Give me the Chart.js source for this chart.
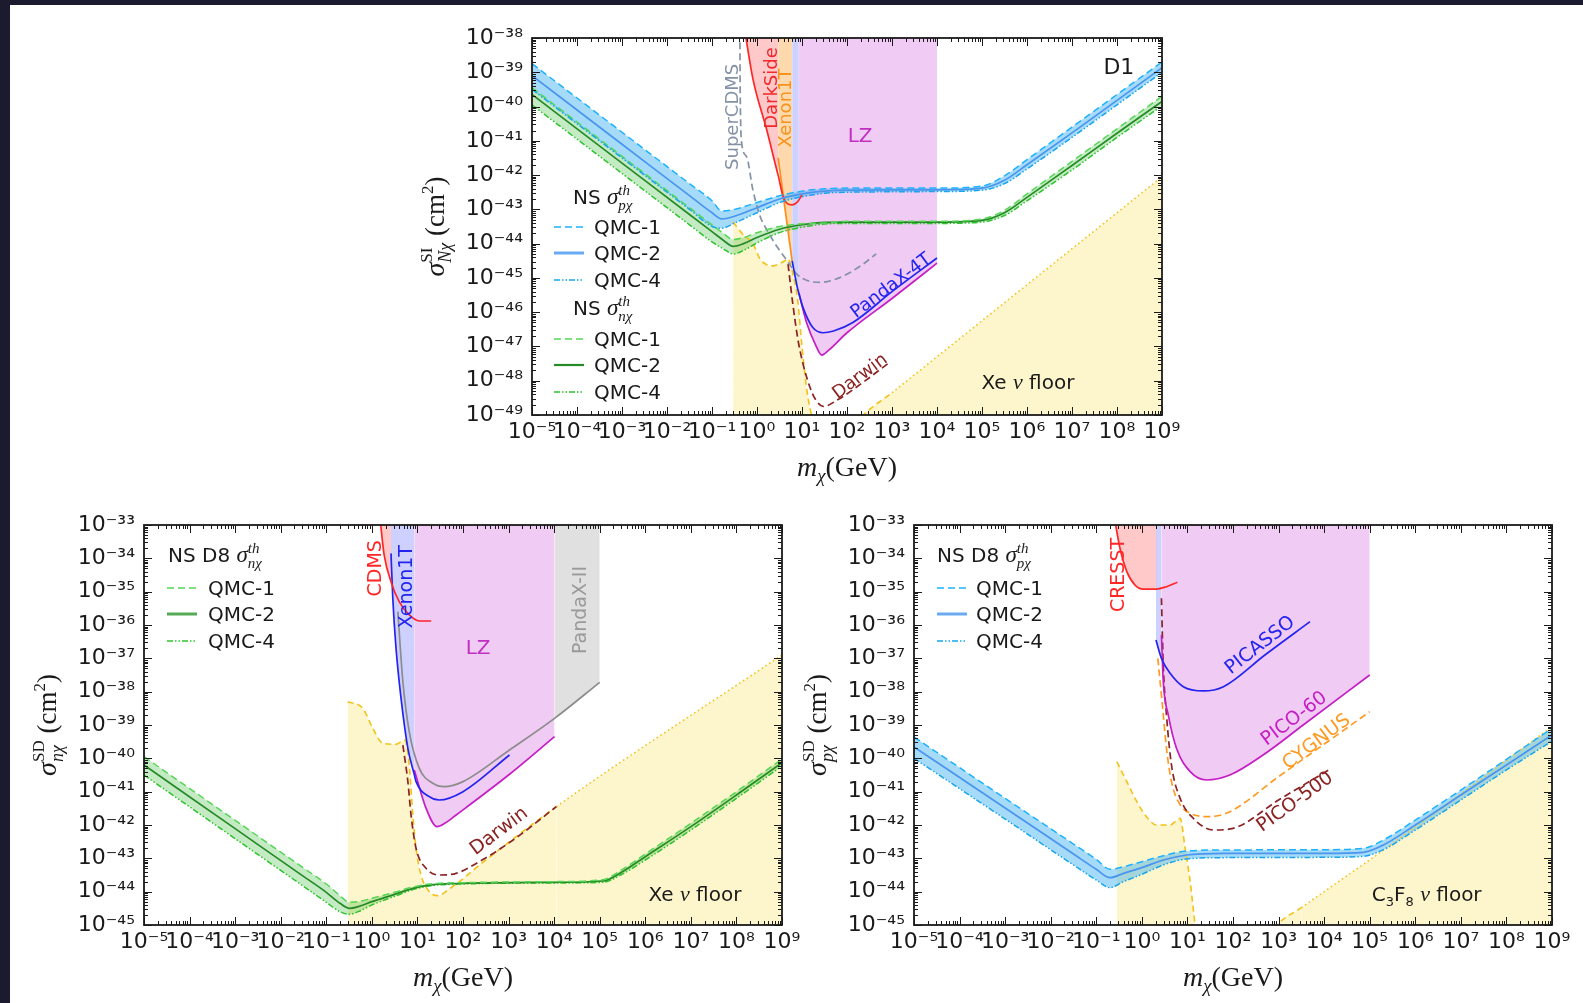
<!DOCTYPE html>
<html>
<head>
<meta charset="utf-8">
<script src="https://cdn.jsdelivr.net/npm/chart.js@4.4.1/dist/chart.umd.min.js"></script>
<style>
  body { margin: 0; width: 1583px; height: 1003px; background: #fff; position: relative; overflow: hidden; }
  .strip { position: absolute; background: #1b1a2e; }
  canvas { position: absolute; }
</style>
</head>
<body>
<div class="strip" style="left:0;top:0;width:1583px;height:5px"></div>
<div class="strip" style="left:0;top:0;width:10px;height:1003px"></div>
<canvas id="si" width="780" height="482" style="left:420px;top:8px"></canvas>
<canvas id="sdn" width="800" height="508" style="left:10px;top:495px"></canvas>
<canvas id="sdp" width="783" height="508" style="left:800px;top:495px"></canvas>
<script>
// tick decades (powers of ten)
const massDecades = [-5, -4, -3, -2, -1, 0, 1, 2, 3, 4, 5, 6, 7, 8, 9];
const siDecades = [-49, -48, -47, -46, -45, -44, -43, -42, -41, -40, -39, -38];
const sdDecades = [-45, -44, -43, -42, -41, -40, -39, -38, -37, -36, -35, -34, -33];

// ---------- D1 : spin independent (GeV, cm^2) ----------
const siPMass = [1e-5, 1e-3, 0.0316, 0.1, 0.166, 0.316, 1, 3.16, 10, 31.6, 100, 1e4, 1e5, 3.16e5, 1e6, 1e7, 1e8, 1e9];
const siPQmc1 = [1.78e-39, 1.78e-41, 5.62e-43, 1.78e-43, 8.91e-44, 1.0e-43, 1.58e-43, 2.51e-43, 3.39e-43, 3.98e-43, 4.17e-43, 4.17e-43, 4.79e-43, 9.55e-43, 2.82e-42, 2.51e-41, 2.24e-40, 2.0e-39];
const siPQmc2 = [7.94e-40, 7.94e-42, 2.51e-43, 7.94e-44, 5.25e-44, 6.31e-44, 1.12e-43, 2.0e-43, 2.82e-43, 3.39e-43, 3.63e-43, 3.72e-43, 4.17e-43, 7.08e-43, 2.0e-42, 1.70e-41, 1.51e-40, 1.35e-39];
const siPQmc4 = [3.16e-40, 3.16e-42, 1.0e-43, 3.16e-44, 2.82e-44, 3.98e-44, 7.94e-44, 1.58e-43, 2.34e-43, 2.95e-43, 3.16e-43, 3.31e-43, 3.63e-43, 5.62e-43, 1.51e-42, 1.26e-41, 1.12e-40, 1.0e-39];

const siNMass = [1e-5, 1e-3, 0.0316, 0.1, 0.178, 0.295, 0.501, 1, 3.16, 10, 31.6, 100, 1e4, 1e5, 3.16e5, 1e6, 1e7, 1e8, 1e9];
const siNQmc1 = [3.55e-40, 3.55e-42, 1.12e-43, 3.55e-44, 2.0e-44, 1.32e-44, 1.51e-44, 2.09e-44, 3.16e-44, 3.80e-44, 3.98e-44, 4.47e-44, 4.47e-44, 5.25e-44, 9.33e-44, 2.82e-43, 2.51e-42, 2.24e-41, 2.0e-40];
const siNQmc2 = [2.24e-40, 2.24e-42, 7.08e-44, 2.24e-44, 1.26e-44, 8.32e-45, 1.0e-44, 1.51e-44, 2.63e-44, 3.55e-44, 4.17e-44, 4.27e-44, 4.27e-44, 4.79e-44, 7.94e-44, 2.24e-43, 1.91e-42, 1.66e-41, 1.41e-40];
const siNQmc4 = [1.12e-40, 1.12e-42, 3.55e-44, 1.12e-44, 7.08e-45, 5.01e-45, 6.31e-45, 1.05e-44, 2.09e-44, 3.02e-44, 3.72e-44, 3.89e-44, 3.89e-44, 4.27e-44, 6.61e-44, 1.78e-43, 1.41e-42, 1.26e-41, 1.05e-40];

const xeFloorSI = [[0.295, 4.27e-44], [0.501, 1.78e-44], [0.813, 1e-44], [1.17, 3.55e-45], [1.58, 2.51e-45], [2.29, 2.24e-45], [3.55, 2.82e-45], [5.01, 3.55e-45], [6.31, 1.26e-45], [7.94, 2.51e-46], [10, 1e-47], [12.9, 5.01e-49], [17.8, 6.31e-50], [25.1, 2.0e-50], [63.1, 1.26e-50], [126, 3.98e-50], [229, 1e-49], [1000, 4.47e-49], [1e4, 5.01e-48], [1e9, 8.91e-43]];
const darksideSI = [[0.537, 1.58e-38], [0.813, 6.31e-40], [1.66, 2.0e-41], [2.75, 1.41e-42], [2.95, 1.0e-42], [3.80, 2.34e-43], [5.01, 1.41e-43], [6.03, 1.35e-43], [7.94, 1.66e-43], [10, 2.63e-43]];
const xenon1tSI = [[2.95, 3.16e-42], [3.98, 1.74e-43], [5.01, 1.86e-44], [6.03, 3.16e-45]];
const pandax4tSI = [[6.03, 3.16e-45], [7.94, 5.01e-46], [8.51, 3.55e-46], [10.5, 1.38e-46], [17.4, 3.55e-47], [29.5, 2.51e-47], [50.1, 2.82e-47], [135, 5.01e-47], [1000, 3.98e-46], [1e4, 3.80e-45]];
const lzSI = [[8.51, 3.55e-46], [12.6, 5.01e-47], [20.0, 1.12e-47], [27.5, 5.62e-48], [39.8, 7.94e-48], [100, 2.51e-47], [1000, 2.51e-46], [1e4, 2.69e-45]];
const supercdmsSI = [[0.417, 1.58e-38], [0.42, 1e-39], [0.427, 1e-40], [0.45, 1e-41], [0.589, 3.39e-42], [0.813, 3.63e-43], [1.17, 6.31e-44], [1.66, 2.51e-44], [2.82, 7.94e-45], [4.68, 3.16e-45], [7.76, 1.26e-45], [12.6, 8.51e-46], [25.1, 7.41e-46], [69.2, 1.02e-45], [200, 2.24e-45], [447, 5.01e-45]];
const darwinSI = [[4.90, 2.51e-45], [6.31, 1.58e-46], [8.13, 1.58e-47], [10.5, 3.16e-48], [15.1, 6.31e-49], [20.0, 2.82e-49], [29.5, 1.78e-49], [63.1, 2.82e-49], [200, 7.94e-49], [912, 3.55e-48]];

// ---------- D8 : spin dependent, neutron ----------
const sdNMass = [1e-5, 1e-3, 0.0316, 0.1, 0.2, 0.324, 0.501, 1, 3.16, 7.94, 18.2, 100, 1e4, 1.17e5, 3.16e5, 1e6, 1e7, 1e8, 1e9];
const sdNQmc1 = [1.12e-40, 1.38e-42, 5.13e-44, 1.70e-44, 7.59e-45, 4.79e-45, 5.01e-45, 6.31e-45, 9.55e-45, 1.38e-44, 1.70e-44, 1.86e-44, 2.0e-44, 2.29e-44, 4.68e-44, 1.35e-43, 1.12e-42, 1.0e-41, 9.55e-41];
const sdNQmc2 = [6.31e-41, 7.76e-43, 2.88e-44, 9.55e-45, 4.47e-45, 3.16e-45, 3.55e-45, 5.01e-45, 8.32e-45, 1.26e-44, 1.58e-44, 1.78e-44, 1.91e-44, 2.09e-44, 3.98e-44, 1.12e-43, 8.91e-43, 7.94e-42, 7.41e-41];
const sdNQmc4 = [3.16e-41, 3.89e-43, 1.45e-44, 4.79e-45, 2.51e-45, 2.09e-45, 2.51e-45, 3.98e-45, 7.24e-45, 1.15e-44, 1.48e-44, 1.70e-44, 1.82e-44, 1.91e-44, 3.39e-44, 8.91e-44, 7.08e-43, 6.31e-42, 5.89e-41];

const xeFloorSD = [[0.295, 5.01e-39], [0.631, 3.16e-39], [1.05, 7.94e-40], [1.74, 2.82e-40], [3.39, 2.63e-40], [5.25, 3.55e-40], [6.61, 6.31e-41], [7.94, 2.0e-42], [9.33, 2.0e-43], [12.0, 3.16e-44], [18.2, 1e-44], [28.2, 7.59e-45], [46.8, 1.12e-44], [316, 8.91e-44], [1.12e4, 3.55e-42], [1e9, 1.26e-37]];
const cdmsSD = [[1.51, 1.58e-33], [1.86, 1.26e-34], [2.63, 2.0e-35], [3.98, 5.01e-36], [6.61, 2.0e-36], [11.0, 1.32e-36], [20.0, 1.32e-36]];
const xenon1tSD = [[2.63, 1.41e-34], [2.88, 6.31e-36], [3.39, 2.0e-37], [4.37, 6.31e-39], [6.17, 2.0e-40], [8.51, 3.31e-41], [9.33, 2.0e-41], [18.2, 7.08e-42], [30.2, 5.62e-42], [100, 1.0e-41], [1047, 1.26e-40]];
const lzSD = [[8.51, 4.47e-41], [15.5, 3.16e-42], [26.9, 8.91e-43], [39.8, 1.12e-42], [70.8, 2.0e-42], [1000, 3.16e-41], [1.02e4, 4.47e-40]];
const pandax2SD = [[3.72, 2.51e-36], [4.79, 2.0e-38], [6.61, 6.31e-40], [11.0, 5.01e-41], [21.9, 1.78e-41], [38.9, 1.41e-41], [100, 2.0e-41], [1047, 1.78e-40], [1.02e4, 1.58e-39], [1e5, 1.91e-38]];
const darwinSD = [[4.79, 2.51e-40], [6.17, 2.0e-41], [7.24, 2.0e-42], [9.33, 2.0e-43], [15.5, 5.01e-44], [30.2, 3.16e-44], [70.8, 3.55e-44], [229, 7.94e-44], [1259, 3.55e-43], [1.12e4, 3.55e-42]];

// ---------- D8 : spin dependent, proton ----------
const sdPMass = [1e-5, 1e-3, 0.0316, 0.1, 0.2, 0.398, 1, 2.95, 9.55, 63.1, 1e4, 7.24e4, 2.0e5, 1e6, 1e7, 1e8, 1e9];
const sdPQmc1 = [4.37e-40, 6.31e-42, 2.69e-43, 9.33e-44, 4.68e-44, 5.62e-44, 7.94e-44, 1.20e-43, 1.66e-43, 1.78e-43, 1.82e-43, 2.0e-43, 3.55e-43, 1.41e-42, 1.12e-41, 9.33e-41, 7.94e-40];
const sdPQmc2 = [2.19e-40, 3.24e-42, 1.35e-43, 4.68e-44, 2.63e-44, 3.55e-44, 5.25e-44, 8.91e-44, 1.26e-43, 1.41e-43, 1.41e-43, 1.51e-43, 2.51e-43, 1.0e-42, 7.94e-42, 6.31e-41, 5.01e-40];
const sdPQmc4 = [1.0e-40, 1.51e-42, 6.31e-44, 2.24e-44, 1.32e-44, 2.0e-44, 3.31e-44, 6.31e-44, 9.55e-44, 1.05e-43, 1.07e-43, 1.15e-43, 1.82e-43, 7.08e-43, 5.62e-42, 4.47e-41, 3.31e-40];

const c3f8Floor = [[0.282, 7.94e-41], [0.468, 2.0e-41], [0.776, 5.01e-42], [1.26, 1.78e-42], [2.09, 1e-42], [4.17, 1e-42], [6.92, 1.58e-42], [8.91, 2.0e-43], [11.5, 2.0e-44], [14.8, 1e-45], [22.4, 5.01e-47], [79.4, 1.58e-47], [316, 1e-46], [933, 1e-45], [3162, 3.31e-45], [1.58e5, 1.41e-43], [1e9, 8.91e-40]];
const cresstSD = [[0.251, 1.58e-33], [0.331, 2.0e-34], [0.468, 3.98e-35], [0.708, 1.58e-35], [1.07, 1.20e-35], [2.09, 1.20e-35], [3.47, 1.41e-35], [6.03, 1.91e-35]];
const picassoSD = [[2.04, 3.55e-37], [2.69, 1e-37], [4.17, 3.55e-38], [8.13, 1.41e-38], [22.4, 1.05e-38], [61.7, 1.41e-38], [501, 1.26e-37], [4898, 1.26e-36]];
const pico60SD = [[2.69, 5.01e-37], [2.95, 2.0e-38], [3.80, 2.0e-39], [5.75, 2.0e-40], [11.5, 3.98e-41], [26.3, 2.24e-41], [85.1, 3.16e-41], [457, 1.26e-40], [3467, 1e-39], [1e5, 3.16e-38]];
const pico500SD = [[2.69, 6.31e-36], [2.95, 6.31e-38], [3.47, 2.0e-39], [4.47, 6.31e-41], [6.92, 6.31e-42], [13.5, 1.58e-42], [37.2, 7.08e-43], [100, 7.94e-43], [1000, 5.62e-42], [1.26e4, 4.47e-41]];
const cygnusSD = [[2.24, 1e-37], [2.82, 3.98e-39], [3.47, 2.0e-40], [4.47, 2.0e-41], [6.31, 5.01e-42], [11.5, 2.24e-42], [30.9, 1.78e-42], [85.1, 2.51e-42], [1000, 2.82e-41], [1e5, 2.51e-39]];

// ---------- look ----------
const SANS = "'DejaVu Sans', sans-serif";
const SERIF = "'Liberation Serif', 'DejaVu Serif', serif";
const INK = '#1a1a1a';
const DASH = [7, 4];
const DASHDOT = [6, 2, 1.5, 2, 1.5, 2];
const BLUE = { fill: 'rgba(40,170,240,0.42)', q1: '#1db2ff', q2: '#4a95ee', q4: '#16a6ee', key: '#6aaaf2' };
const GREEN = { fill: 'rgba(60,190,60,0.30)', q1: '#55d655', q2: '#268a26', q4: '#2dc42d', key: '#55aa55' };
const GOLD = '#f2c21a';
const FLOOR_FILL = 'rgba(250,226,110,0.36)';
const RED_FILL = 'rgba(255,60,60,0.28)';
const ORANGE_FILL = 'rgba(255,150,30,0.36)';
const BLUE_FILL = 'rgba(80,90,255,0.28)';
const PURPLE_FILL = 'rgba(200,70,215,0.28)';
const GRAY_FILL = 'rgba(160,160,160,0.32)';

const SUP = { '-': '⁻', '0': '⁰', '1': '¹', '2': '²', '3': '³', '4': '⁴', '5': '⁵', '6': '⁶', '7': '⁷', '8': '⁸', '9': '⁹' };
const tenTo = e => '10' + String(e).split('').map(c => SUP[c]).join('');

const xy = pairs => pairs.map(([x, y]) => ({ x, y }));
const zipXY = (xs, ys) => xs.map((x, i) => ({ x, y: ys[i] }));

function band(mass, q1, q2, q4, c) {
  return [
    { data: zipXY(mass, q1), borderColor: c.q1, borderDash: DASH, fill: '+2', backgroundColor: c.fill, borderWidth: 1.5 },
    { data: zipXY(mass, q2), borderColor: c.q2, borderWidth: 1.7 },
    { data: zipXY(mass, q4), borderColor: c.q4, borderDash: DASHDOT, borderWidth: 1.5 }
  ];
}
const line = (pairs, color, dash) => ({ data: xy(pairs), borderColor: color, borderDash: dash || [], borderWidth: 1.7 });
const shade = (pairs, color, lo, hi) => ({
  data: xy(pairs.filter(([x]) => x >= lo && x <= hi)),
  borderWidth: 0, borderColor: 'rgba(0,0,0,0)', fill: 'end', backgroundColor: color
});
const floor = (pairs, dottedFrom) => ({
  data: xy(pairs), borderColor: GOLD, borderWidth: 1.6, fill: 'start', backgroundColor: FLOOR_FILL,
  segment: { borderDash: s => s.p0.parsed.x >= dottedFrom ? [1.5, 3] : [6, 4] }
});

// rich text: parts are {t, f, dy} or {stack: [...]}
function partWidth(ctx, p) {
  const list = p.stack || [p];
  return Math.max(...list.map(q => { ctx.font = q.f; return ctx.measureText(q.t).width; }));
}
function drawRich(ctx, parts, x, y, align) {
  const w = parts.reduce((s, p) => s + partWidth(ctx, p), 0);
  let cx = align === 'center' ? x - w / 2 : x;
  ctx.textAlign = 'left';
  ctx.textBaseline = 'alphabetic';
  parts.forEach(p => {
    const pw = partWidth(ctx, p);
    (p.stack || [p]).forEach(q => { ctx.font = q.f; ctx.fillText(q.t, cx, y + (q.dy || 0)); });
    cx += pw;
  });
}
const sigma = (sub) => [
  { t: 'σ', f: `italic 23px ${SERIF}` },
  { stack: [{ t: 'th', f: `italic 15px ${SERIF}`, dy: -9 }, { t: sub, f: `italic 15px ${SERIF}`, dy: 6 }] }
];
const xeFloorParts = [
  { t: 'Xe ', f: `20px ${SANS}` }, { t: 'ν', f: `italic 22px ${SERIF}` }, { t: ' floor', f: `20px ${SANS}` }
];
const c3f8Parts = [
  { t: 'C', f: `20px ${SANS}` }, { t: '3', f: `13px ${SANS}`, dy: 5 }, { t: 'F', f: `20px ${SANS}` },
  { t: '8', f: `13px ${SANS}`, dy: 5 }, { t: ' ', f: `20px ${SANS}` }, { t: 'ν', f: `italic 22px ${SERIF}` },
  { t: ' floor', f: `20px ${SANS}` }
];
const yTitle = (sup, sub) => [
  { t: 'σ', f: `italic 28px ${SERIF}` },
  { stack: [{ t: sup, f: `17px ${SERIF}`, dy: -12 }, { t: sub, f: `italic 18px ${SERIF}`, dy: 7 }] },
  { t: ' (cm', f: `27px ${SERIF}` }, { t: '2', f: `17px ${SERIF}`, dy: -11 }, { t: ')', f: `27px ${SERIF}` }
];
const xTitle = [
  { t: 'm', f: `italic 28px ${SERIF}` }, { t: 'χ', f: `italic 19px ${SERIF}`, dy: 6 }, { t: '(GeV)', f: `28px ${SERIF}` }
];

const decor = {
  id: 'decor',
  afterDatasetsDraw(chart, args, o) {
    const { ctx, chartArea: a, scales: { x, y } } = chart;
    ctx.save();
    // curve labels
    o.labels.forEach(l => {
      const size = l.size || 18;
      ctx.save();
      ctx.translate(x.getPixelForValue(l.x), y.getPixelForValue(l.y));
      ctx.rotate((l.rot || 0) * Math.PI / 180);
      ctx.fillStyle = l.color || INK;
      drawRich(ctx, l.parts || [{ t: l.text, f: `${size}px ${SANS}` }], 0, size * 0.36, 'center');
      ctx.restore();
    });
    // legend
    const lg = o.legend;
    lg.rows.forEach(r => {
      const ry = a.top + r.y;
      ctx.fillStyle = INK;
      if (r.head) {
        drawRich(ctx, [{ t: r.head, f: `20px ${SANS}` }, ...sigma(r.sub)], a.left + lg.headX, ry + 7, 'left');
        return;
      }
      ctx.strokeStyle = r.color;
      ctx.lineWidth = r.width || 1.6;
      ctx.setLineDash(r.dash || []);
      ctx.beginPath();
      ctx.moveTo(a.left + lg.lineX, ry);
      ctx.lineTo(a.left + lg.lineX + 30, ry);
      ctx.stroke();
      ctx.setLineDash([]);
      drawRich(ctx, [{ t: r.text, f: `20px ${SANS}` }], a.left + lg.textX, ry + 7, 'left');
    });
    // frame and inward ticks on all sides
    ctx.strokeStyle = INK;
    ctx.lineWidth = 1.8;
    ctx.strokeRect(a.left, a.top, a.width, a.height);
    ctx.lineWidth = 1;
    const steps = [1, 2, 3, 4, 5, 6, 7, 8, 9];
    const marks = (decs) => {
      const out = [];
      decs.forEach((e, i) => steps.forEach(m => {
        if (i < decs.length - 1 || m === 1) out.push({ v: m * Math.pow(10, e), major: m === 1 });
      }));
      return out;
    };
    ctx.beginPath();
    marks(o.xDecades).forEach(t => {
      const px = Math.round(x.getPixelForValue(t.v)) + 0.5, len = t.major ? 8 : 4;
      ctx.moveTo(px, a.bottom); ctx.lineTo(px, a.bottom - len);
      ctx.moveTo(px, a.top); ctx.lineTo(px, a.top + len);
    });
    marks(o.yDecades).forEach(t => {
      const py = Math.round(y.getPixelForValue(t.v)) + 0.5, len = t.major ? 8 : 4;
      ctx.moveTo(a.left, py); ctx.lineTo(a.left + len, py);
      ctx.moveTo(a.right, py); ctx.lineTo(a.right - len, py);
    });
    ctx.stroke();
    ctx.restore();
  },
  afterDraw(chart, args, o) {
    const { ctx, chartArea: a } = chart;
    ctx.save();
    ctx.fillStyle = INK;
    drawRich(ctx, xTitle, (a.left + a.right) / 2, a.bottom + 61, 'center');
    ctx.translate(a.left - 97, (a.top + a.bottom) / 2);
    ctx.rotate(-Math.PI / 2);
    drawRich(ctx, o.yTitle, 0, 9, 'center');
    ctx.restore();
  }
};

function makePanel(id, datasets, yDecades, pad, decorOpts) {
  const tickFont = { family: SANS, size: 22 };
  return new Chart(document.getElementById(id), {
    type: 'line',
    data: { datasets },
    plugins: [decor],
    options: {
      responsive: false,
      animation: false,
      events: [],
      layout: { padding: pad },
      elements: {
        point: { radius: 0, hitRadius: 0 },
        line: { borderWidth: 1.6, cubicInterpolationMode: 'monotone', capBezierPoints: false, fill: false }
      },
      plugins: {
        legend: { display: false },
        tooltip: { enabled: false },
        filler: { drawTime: 'beforeDatasetsDraw' },
        decor: Object.assign({ xDecades: massDecades, yDecades }, decorOpts)
      },
      scales: {
        x: {
          type: 'logarithmic', min: Math.pow(10, massDecades[0]), max: Math.pow(10, massDecades[massDecades.length - 1]),
          grid: { display: false, drawTicks: false }, border: { display: false },
          afterBuildTicks: s => { s.ticks = massDecades.map(e => ({ value: Math.pow(10, e) })); },
          afterFit: s => { s.height = 40; },
          ticks: { autoSkip: false, maxRotation: 0, minRotation: 0, padding: 4, color: INK, font: tickFont,
                   callback: v => tenTo(Math.round(Math.log10(v))) }
        },
        y: {
          type: 'logarithmic', min: Math.pow(10, yDecades[0]), max: Math.pow(10, yDecades[yDecades.length - 1]),
          grid: { display: false, drawTicks: false }, border: { display: false },
          afterBuildTicks: s => { s.ticks = yDecades.map(e => ({ value: Math.pow(10, e) })); },
          afterFit: s => { s.width = 100; },
          ticks: { autoSkip: false, padding: 9, color: INK, font: tickFont,
                   callback: v => tenTo(Math.round(Math.log10(v))) }
        }
      }
    }
  });
}

// ----- D1 spin independent -----
makePanel('si', [
  ...band(siPMass, siPQmc1, siPQmc2, siPQmc4, BLUE),
  ...band(siNMass, siNQmc1, siNQmc2, siNQmc4, GREEN),
  line(darksideSI, '#ff2626'),
  line(xenon1tSI, '#ff8c1a'),
  line(pandax4tSI, '#2424f0'),
  line(lzSI, '#c41ec4'),
  line(supercdmsSI, '#8592a6', DASH),
  line(darwinSI, '#8b2323', DASH),
  floor(xeFloorSI, 1000),
  shade(lzSI, PURPLE_FILL, 8.51, 1e4),
  shade(pandax4tSI, BLUE_FILL, 6.03, 8.51),
  shade(xenon1tSI, ORANGE_FILL, 2.95, 6.03),
  shade(darksideSI, RED_FILL, 0.5, 2.95)
], siDecades, { left: 12, top: 30, right: 38, bottom: 35 }, {
  yTitle: yTitle('SI', 'Nχ'),
  labels: [
    { x: 0.275, y: 5.01e-41, text: 'SuperCDMS', color: '#8592a6', rot: -90, size: 18 },
    { x: 2.0, y: 3.47e-40, text: 'DarkSide', color: '#f02a2a', rot: -90, size: 18 },
    { x: 4.17, y: 9.1e-41, text: 'Xenon1T', color: '#f7931e', rot: -90, size: 18 },
    { x: 195, y: 1.48e-41, text: 'LZ', color: '#c030c0', size: 20 },
    { x: 912, y: 6.31e-46, text: 'PandaX-4T', color: '#2424f0', rot: -37, size: 18 },
    { x: 186, y: 1.45e-48, text: 'Darwin', color: '#8b2323', rot: -37, size: 18 },
    { x: 1.05e6, y: 8.91e-49, parts: xeFloorParts },
    { x: 1.1e8, y: 1.48e-39, text: 'D1', size: 22 }
  ],
  legend: {
    headX: 41, lineX: 22, textX: 62,
    rows: [
      { head: 'NS ', sub: 'pχ', y: 159 },
      { y: 189, text: 'QMC-1', color: BLUE.q1, dash: DASH },
      { y: 215, text: 'QMC-2', color: BLUE.key, width: 3 },
      { y: 242, text: 'QMC-4', color: BLUE.q4, dash: DASHDOT },
      { head: 'NS ', sub: 'nχ', y: 270 },
      { y: 301, text: 'QMC-1', color: GREEN.q1, dash: DASH },
      { y: 327, text: 'QMC-2', color: GREEN.q2, width: 2.2 },
      { y: 354, text: 'QMC-4', color: GREEN.q4, dash: DASHDOT }
    ]
  }
});

// ----- D8 spin dependent, neutron -----
makePanel('sdn', [
  ...band(sdNMass, sdNQmc1, sdNQmc2, sdNQmc4, GREEN),
  line(cdmsSD, '#ff2626'),
  line(xenon1tSD, '#2424f0'),
  line(lzSD, '#c41ec4'),
  line(pandax2SD, '#8c8c8c'),
  line(darwinSD, '#8b2323', DASH),
  floor(xeFloorSD, 1.12e4),
  shade(pandax2SD, GRAY_FILL, 1.02e4, 1e5),
  shade(lzSD, PURPLE_FILL, 8.51, 1.02e4),
  shade(xenon1tSD, BLUE_FILL, 2.63, 8.51),
  shade(cdmsSD, RED_FILL, 1.5, 2.63)
], sdDecades, { left: 34, top: 30, right: 28, bottom: 38 }, {
  yTitle: yTitle('SD', 'nχ'),
  labels: [
    { x: 1.12, y: 5.01e-35, text: 'CDMS', color: '#ff2626', rot: -90, size: 19 },
    { x: 5.5, y: 1.41e-35, text: 'Xenon1T', color: '#2424f0', rot: -90, size: 19 },
    { x: 214, y: 2.24e-37, text: 'LZ', color: '#c030c0', size: 20 },
    { x: 3.55e4, y: 2.82e-36, text: 'PandaX-II', color: '#9a9a9a', rot: -90, size: 19 },
    { x: 589, y: 7.08e-43, text: 'Darwin', color: '#8b2323', rot: -37, size: 19 },
    { x: 1.23e7, y: 8.13e-45, parts: xeFloorParts }
  ],
  legend: {
    headX: 24, lineX: 23, textX: 64,
    rows: [
      { head: 'NS D8 ', sub: 'nχ', y: 30 },
      { y: 63, text: 'QMC-1', color: GREEN.q1, dash: DASH },
      { y: 89, text: 'QMC-2', color: GREEN.key, width: 3 },
      { y: 116, text: 'QMC-4', color: GREEN.q4, dash: DASHDOT }
    ]
  }
});

// ----- D8 spin dependent, proton -----
makePanel('sdp', [
  ...band(sdPMass, sdPQmc1, sdPQmc2, sdPQmc4, BLUE),
  line(cresstSD, '#ff2626'),
  line(picassoSD, '#2424f0'),
  line(pico60SD, '#c41ec4'),
  line(pico500SD, '#8b2323', DASH),
  line(cygnusSD, '#ff9a22', DASH),
  floor(c3f8Floor, 3162),
  shade(pico60SD, PURPLE_FILL, 2.69, 1e5),
  shade(picassoSD, BLUE_FILL, 2.04, 2.69),
  shade(cresstSD, RED_FILL, 0.25, 2.09)
], sdDecades, { left: 14, top: 30, right: 31, bottom: 38 }, {
  yTitle: yTitle('SD', 'pχ'),
  labels: [
    { x: 0.282, y: 3.16e-35, text: 'CRESST', color: '#ff2626', rot: -90, size: 19 },
    { x: 372, y: 2.69e-37, text: 'PICASSO', color: '#2424f0', rot: -38, size: 19 },
    { x: 2089, y: 1.70e-39, text: 'PICO-60', color: '#c41ec4', rot: -37, size: 19 },
    { x: 6457, y: 3.39e-40, text: 'CYGNUS', color: '#ff9a22', rot: -37, size: 19 },
    { x: 2188, y: 5.37e-42, text: 'PICO-500', color: '#8b2323', rot: -36, size: 19 },
    { x: 1.78e6, y: 8.13e-45, parts: c3f8Parts }
  ],
  legend: {
    headX: 23, lineX: 23, textX: 62,
    rows: [
      { head: 'NS D8 ', sub: 'pχ', y: 30 },
      { y: 63, text: 'QMC-1', color: BLUE.q1, dash: DASH },
      { y: 89, text: 'QMC-2', color: BLUE.key, width: 3 },
      { y: 116, text: 'QMC-4', color: BLUE.q4, dash: DASHDOT }
    ]
  }
});
</script>
</body>
</html>
